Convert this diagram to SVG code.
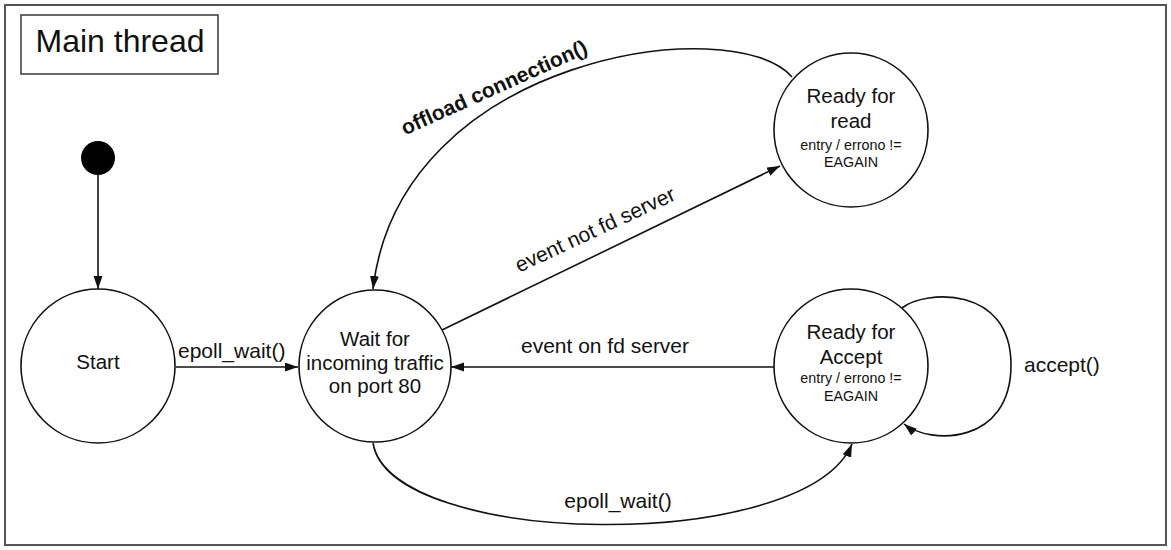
<svg xmlns="http://www.w3.org/2000/svg" width="1171" height="550" viewBox="0 0 1171 550">
<style>
text{font-family:"Liberation Sans",Arial,sans-serif;fill:#111}
.state{fill:#fff;stroke:#111;stroke-width:1.6}
.lbl{font-size:21px}
.nt{font-size:20.5px;text-anchor:middle}
.sm{font-size:14.3px;text-anchor:middle}
.edge{fill:none;stroke:#111;stroke-width:1.6;marker-end:url(#arr)}
</style>
<defs>
<marker id="arr" markerUnits="userSpaceOnUse" markerWidth="14" markerHeight="10" refX="13" refY="4.5" orient="auto">
<path d="M0,0 L13,4.5 L0,9 z" fill="#111"/>
</marker>
</defs>
<rect x="5" y="5" width="1161" height="540" fill="#fff" stroke="#555" stroke-width="2"/>
<g id="title">
<rect x="21" y="15" width="197" height="59" fill="#fff" stroke="#444" stroke-width="1.6"/>
<text x="120" y="52" font-size="32" text-anchor="middle">Main thread</text>
</g>
<g id="connectors">
<path class="edge" d="M98,175 L98,289"/>
<path class="edge" d="M176,367 L298,367"/>
<path class="edge" d="M774,367 L451,367"/>
<path class="edge" d="M442,330 L780,166"/>
<path class="edge" d="M792,77 C735,10 400,55 373,289"/>
<path class="edge" d="M373,443 C390,548 805,555 852,444"/>
<path class="edge" d="M902,308 C925,290 1011,285 1011,365 C1011,445 930,445 904,424"/>
<text class="lbl" x="178" y="358">epoll_wait()</text>
<text class="lbl" x="605" y="353" text-anchor="middle">event on fd server</text>
<text class="lbl" x="598" y="236" text-anchor="middle" transform="rotate(-25 598 236)">event not fd server</text>
<text class="lbl" x="497" y="94" text-anchor="middle" font-weight="bold" transform="rotate(-24.3 497 94)">offload connection()</text>
<text class="lbl" x="618" y="508" text-anchor="middle">epoll_wait()</text>
<text class="lbl" x="1024" y="372">accept()</text>
</g>
<g id="initial">
<circle cx="98" cy="158" r="17" fill="#000"/>
</g>
<g id="start">
<circle class="state" cx="98" cy="366" r="77"/>
<text class="nt" x="98" y="369">Start</text>
</g>
<g id="wait">
<circle class="state" cx="375" cy="366" r="76"/>
<text class="nt" x="375" y="346">Wait for</text>
<text class="nt" x="375" y="370">incoming traffic</text>
<text class="nt" x="375" y="393">on port 80</text>
</g>
<g id="read">
<circle class="state" cx="851" cy="130" r="77"/>
<text class="nt" x="851" y="103">Ready for</text>
<text class="nt" x="851" y="128">read</text>
<text class="sm" x="851" y="150">entry / errono !=</text>
<text class="sm" x="851" y="167">EAGAIN</text>
</g>
<g id="accept">
<circle class="state" cx="851" cy="366" r="77"/>
<text class="nt" x="851" y="339">Ready for</text>
<text class="nt" x="851" y="364">Accept</text>
<text class="sm" x="851" y="383">entry / errono !=</text>
<text class="sm" x="851" y="401">EAGAIN</text>
</g>
</svg>
